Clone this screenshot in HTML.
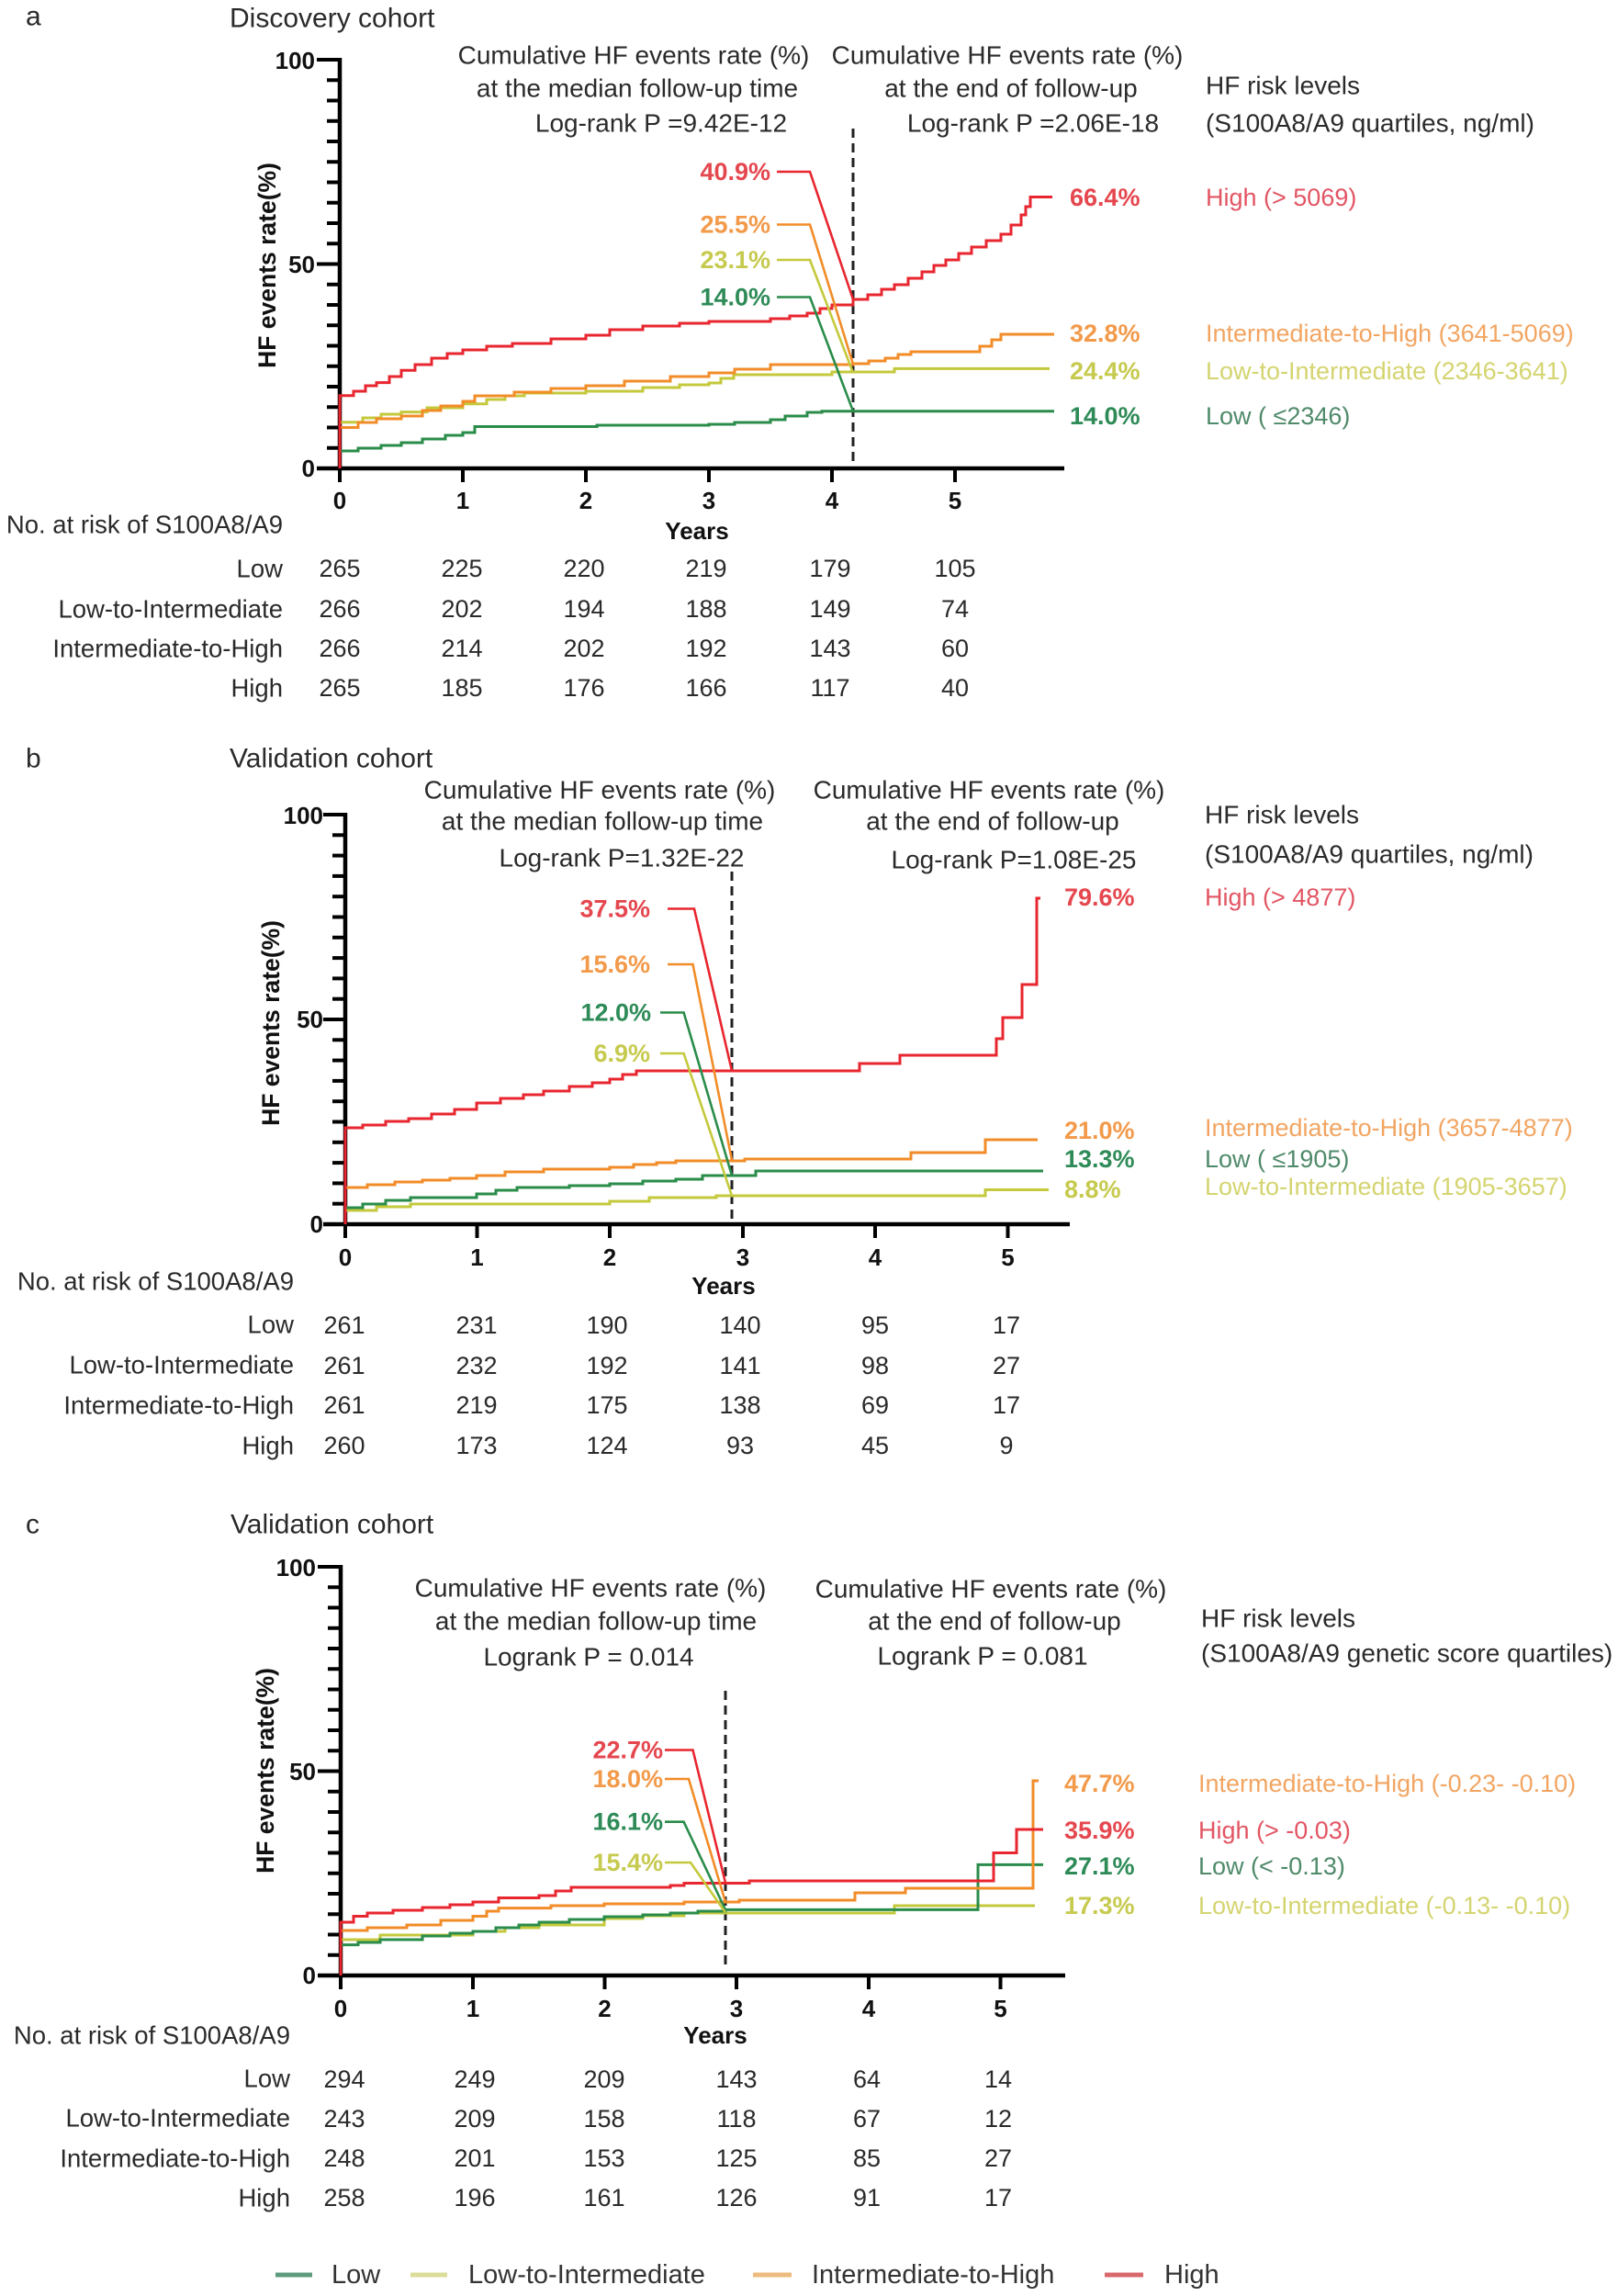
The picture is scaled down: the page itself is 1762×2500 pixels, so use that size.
<!DOCTYPE html>
<html>
<head>
<meta charset="utf-8">
<style>
html,body{margin:0;padding:0;background:#fff;}
svg{display:block;}
text{font-family:"Liberation Sans",Arial,sans-serif;dominant-baseline:central;}
.t{font-size:28px;fill:#2a2a2a;}
.ttl{font-size:30px;fill:#2a2a2a;}
.tk{font-size:26px;font-weight:bold;fill:#111;}
.yl{font-size:26.5px;font-weight:bold;fill:#111;}
.rt{font-size:27.5px;fill:#2a2a2a;}
.num{font-size:27px;fill:#2a2a2a;}
.vl{font-size:27px;font-weight:bold;}
.cat{font-size:27px;}
.lg{font-size:29px;fill:#333;}
.ax{stroke:#000;stroke-width:4.5;fill:none;}
.tick{stroke:#000;stroke-width:4;}
.dash{stroke:#222;stroke-width:3;stroke-dasharray:10,6;fill:none;}
.c{fill:none;stroke-width:3;stroke-linejoin:miter;}
.ld{fill:none;stroke-width:2.6;}
.R{stroke:#e8262f;} .O{stroke:#f28c28;} .Y{stroke:#c4c93c;} .G{stroke:#2a8c4a;}
.fR{fill:#e5474f;} .fO{fill:#f29a4a;} .fY{fill:#c6ca4e;} .fG{fill:#2e8b57;}
.cR{fill:#e25563;} .cO{fill:#f2a562;} .cY{fill:#d4d470;} .cG{fill:#4f8a6a;}
</style>
</head>
<body>
<svg width="1762" height="2500" viewBox="0 0 1762 2500" xmlns="http://www.w3.org/2000/svg">

<!-- ================= PANEL A ================= -->
<text x="28" y="18" class="ttl">a</text>
<text x="250" y="20" class="ttl">Discovery cohort</text>

<text x="690" y="60" class="t" text-anchor="middle">Cumulative HF events rate (%)</text>
<text x="694" y="96" class="t" text-anchor="middle">at the median follow-up time</text>
<text x="720" y="134" class="t" text-anchor="middle">Log-rank P =9.42E-12</text>
<text x="1097" y="60" class="t" text-anchor="middle">Cumulative HF events rate (%)</text>
<text x="1101" y="96" class="t" text-anchor="middle">at the end of follow-up</text>
<text x="1125" y="134" class="t" text-anchor="middle">Log-rank P =2.06E-18</text>
<text x="1313" y="93" class="t">HF risk levels</text>
<text x="1313" y="134" class="t">(S100A8/A9 quartiles, ng/ml)</text>

<!-- y ticks a -->
<g class="tick">
<line x1="345" y1="65" x2="370" y2="65"/>
<line x1="356" y1="87.25" x2="370" y2="87.25"/><line x1="356" y1="109.5" x2="370" y2="109.5"/><line x1="356" y1="131.75" x2="370" y2="131.75"/><line x1="356" y1="154" x2="370" y2="154"/><line x1="356" y1="176.25" x2="370" y2="176.25"/><line x1="356" y1="198.5" x2="370" y2="198.5"/><line x1="356" y1="220.75" x2="370" y2="220.75"/><line x1="356" y1="243" x2="370" y2="243"/><line x1="356" y1="265.25" x2="370" y2="265.25"/>
<line x1="345" y1="287.5" x2="370" y2="287.5"/>
<line x1="356" y1="309.75" x2="370" y2="309.75"/><line x1="356" y1="332" x2="370" y2="332"/><line x1="356" y1="354.25" x2="370" y2="354.25"/><line x1="356" y1="376.5" x2="370" y2="376.5"/><line x1="356" y1="398.75" x2="370" y2="398.75"/><line x1="356" y1="421" x2="370" y2="421"/><line x1="356" y1="443.25" x2="370" y2="443.25"/><line x1="356" y1="465.5" x2="370" y2="465.5"/><line x1="356" y1="487.75" x2="370" y2="487.75"/>
<line x1="370" y1="510" x2="370" y2="525"/><line x1="504" y1="510" x2="504" y2="525"/><line x1="638" y1="510" x2="638" y2="525"/><line x1="772" y1="510" x2="772" y2="525"/><line x1="906" y1="510" x2="906" y2="525"/><line x1="1040" y1="510" x2="1040" y2="525"/>
</g>
<path class="ax" d="M370,63 V510 M345,510 H1159"/>
<text x="343" y="66" class="tk" text-anchor="end">100</text>
<text x="343" y="288" class="tk" text-anchor="end">50</text>
<text x="343" y="510" class="tk" text-anchor="end">0</text>
<text class="tk" y="545" text-anchor="middle"><tspan x="370">0</tspan></text>
<text class="tk" y="545" x="504" text-anchor="middle">1</text>
<text class="tk" y="545" x="638" text-anchor="middle">2</text>
<text class="tk" y="545" x="772" text-anchor="middle">3</text>
<text class="tk" y="545" x="906" text-anchor="middle">4</text>
<text class="tk" y="545" x="1040" text-anchor="middle">5</text>
<text x="759" y="578" class="tk" text-anchor="middle">Years</text>
<text class="yl" text-anchor="middle" transform="translate(291,289) rotate(-90)">HF events rate(%)</text>

<line class="dash" x1="929" y1="140" x2="929" y2="508"/>

<path class="c G" d="M370,510 V491 H390 V488 H415 V485 H437 V482 H460 V478 H485 V474 H504 V471 H517 V464.5 H650 V463 H772 V462 H800 V460 H839 V457 H855 V453 H879 V449 H895 V447.7 H1148"/>
<path class="c Y" d="M370,510 V459.7 H395 V455 H415 V451 H437 V448.6 H465 V444 H504 V439.7 H530 V435 H550 V431 H571 V428 H638 V426 H700 V422 H740 V419 H772 V417 H785 V412 H799 V408 H906 V405 H974 V401.4 H1143"/>
<path class="c O" d="M370,510 V465.5 H390 V460 H410 V456 H437 V453 H460 V447 H480 V442 H504 V437 H517 V431 H560 V427 H600 V423 H638 V420 H680 V415 H730 V410 H772 V406 H800 V402 H839 V397 H929 V396 H946 V393 H964 V390 H978 V386 H992 V383 H1067 V377 H1080 V370 H1090 V364 H1148"/>
<path class="c R" d="M370,510 V430.8 H385 V426 H398 V420 H410 V416.6 H424 V410 H437 V403.2 H452 V397 H470 V390 H487 V385 H504 V381 H530 V377 H558 V374 H600 V369 H638 V365 H664 V359 H700 V355 H740 V352 H772 V350 H839 V347 H860 V344 H879 V341 H893 V336 H906 V332 H929 V326 H945 V321 H960 V315 H974 V310 H989 V303 H1004 V296 H1017 V289 H1030 V283 H1044 V276 H1058 V269 H1074 V262 H1090 V255 H1101 V245 H1112 V234 H1117 V225 H1122 V214.5 H1146"/>

<path class="ld R" d="M846,187 H882 L929,326"/>
<path class="ld O" d="M846,244.5 H882 L929,396.5"/>
<path class="ld Y" d="M846,283 H882 L929,406"/>
<path class="ld G" d="M846,323.5 H882 L929,447.7"/>
<text x="839" y="187" class="vl fR" text-anchor="end">40.9%</text>
<text x="839" y="244.5" class="vl fO" text-anchor="end">25.5%</text>
<text x="839" y="283" class="vl fY" text-anchor="end">23.1%</text>
<text x="839" y="323.5" class="vl fG" text-anchor="end">14.0%</text>

<text x="1165" y="215" class="vl fR">66.4%</text>
<text x="1165" y="363" class="vl fO">32.8%</text>
<text x="1165" y="404" class="vl fY">24.4%</text>
<text x="1165" y="453" class="vl fG">14.0%</text>
<text x="1313" y="215" class="cat cR">High (&gt; 5069)</text>
<text x="1313" y="363" class="cat cO">Intermediate-to-High (3641-5069)</text>
<text x="1313" y="404" class="cat cY">Low-to-Intermediate (2346-3641)</text>
<text x="1313" y="453" class="cat cG">Low ( ≤2346)</text>

<text x="308" y="571" class="rt" text-anchor="end">No. at risk of S100A8/A9</text>
<text x="308" y="619" class="rt" text-anchor="end">Low</text>
<text x="308" y="663" class="rt" text-anchor="end">Low-to-Intermediate</text>
<text x="308" y="706" class="rt" text-anchor="end">Intermediate-to-High</text>
<text x="308" y="749" class="rt" text-anchor="end">High</text>
<g class="num" text-anchor="middle">
<text x="370" y="619">265</text><text x="503" y="619">225</text><text x="636" y="619">220</text><text x="769" y="619">219</text><text x="904" y="619">179</text><text x="1040" y="619">105</text>
<text x="370" y="663">266</text><text x="503" y="663">202</text><text x="636" y="663">194</text><text x="769" y="663">188</text><text x="904" y="663">149</text><text x="1040" y="663">74</text>
<text x="370" y="706">266</text><text x="503" y="706">214</text><text x="636" y="706">202</text><text x="769" y="706">192</text><text x="904" y="706">143</text><text x="1040" y="706">60</text>
<text x="370" y="749">265</text><text x="503" y="749">185</text><text x="636" y="749">176</text><text x="769" y="749">166</text><text x="904" y="749">117</text><text x="1040" y="749">40</text>
</g>

<!-- ================= PANEL B ================= -->
<text x="28" y="826" class="ttl">b</text>
<text x="250" y="826" class="ttl">Validation cohort</text>

<text x="653" y="860" class="t" text-anchor="middle">Cumulative HF events rate (%)</text>
<text x="656" y="894" class="t" text-anchor="middle">at the median follow-up time</text>
<text x="677" y="934" class="t" text-anchor="middle">Log-rank P=1.32E-22</text>
<text x="1077" y="860" class="t" text-anchor="middle">Cumulative HF events rate (%)</text>
<text x="1081" y="894" class="t" text-anchor="middle">at the end of follow-up</text>
<text x="1104" y="936" class="t" text-anchor="middle">Log-rank P=1.08E-25</text>
<text x="1312" y="887" class="t">HF risk levels</text>
<text x="1312" y="930" class="t">(S100A8/A9 quartiles, ng/ml)</text>

<g class="tick">
<line x1="352" y1="887" x2="376" y2="887"/>
<line x1="362" y1="909.3" x2="376" y2="909.3"/><line x1="362" y1="931.6" x2="376" y2="931.6"/><line x1="362" y1="953.9" x2="376" y2="953.9"/><line x1="362" y1="976.2" x2="376" y2="976.2"/><line x1="362" y1="998.5" x2="376" y2="998.5"/><line x1="362" y1="1020.8" x2="376" y2="1020.8"/><line x1="362" y1="1043.1" x2="376" y2="1043.1"/><line x1="362" y1="1065.4" x2="376" y2="1065.4"/><line x1="362" y1="1087.7" x2="376" y2="1087.7"/>
<line x1="352" y1="1110" x2="376" y2="1110"/>
<line x1="362" y1="1132.3" x2="376" y2="1132.3"/><line x1="362" y1="1154.6" x2="376" y2="1154.6"/><line x1="362" y1="1176.9" x2="376" y2="1176.9"/><line x1="362" y1="1199.2" x2="376" y2="1199.2"/><line x1="362" y1="1221.5" x2="376" y2="1221.5"/><line x1="362" y1="1243.8" x2="376" y2="1243.8"/><line x1="362" y1="1266.1" x2="376" y2="1266.1"/><line x1="362" y1="1288.4" x2="376" y2="1288.4"/><line x1="362" y1="1310.7" x2="376" y2="1310.7"/>
<line x1="376" y1="1333" x2="376" y2="1348"/><line x1="519.5" y1="1333" x2="519.5" y2="1348"/><line x1="664" y1="1333" x2="664" y2="1348"/><line x1="809" y1="1333" x2="809" y2="1348"/><line x1="953" y1="1333" x2="953" y2="1348"/><line x1="1097.5" y1="1333" x2="1097.5" y2="1348"/>
</g>
<path class="ax" d="M376,885 V1333 M352,1333 H1165"/>
<text x="352" y="888" class="tk" text-anchor="end">100</text>
<text x="352" y="1110" class="tk" text-anchor="end">50</text>
<text x="352" y="1333" class="tk" text-anchor="end">0</text>
<text class="tk" y="1369" x="376" text-anchor="middle">0</text>
<text class="tk" y="1369" x="519.5" text-anchor="middle">1</text>
<text class="tk" y="1369" x="664" text-anchor="middle">2</text>
<text class="tk" y="1369" x="809" text-anchor="middle">3</text>
<text class="tk" y="1369" x="953" text-anchor="middle">4</text>
<text class="tk" y="1369" x="1097.5" text-anchor="middle">5</text>
<text x="788" y="1400" class="tk" text-anchor="middle">Years</text>
<text class="yl" text-anchor="middle" transform="translate(295,1114) rotate(-90)">HF events rate(%)</text>

<line class="dash" x1="797" y1="949" x2="797" y2="1331"/>

<path class="c Y" d="M376,1333 V1318 H410 V1314 H447 V1311 H664 V1308 H707 V1304 H780 V1302 H1073 V1295.5 H1142"/>
<path class="c G" d="M376,1333 V1315 H395 V1311 H420 V1307 H447 V1304 H519 V1300 H540 V1296 H563 V1293 H620 V1291 H664 V1289 H700 V1286 H736 V1284 H765 V1280 H823 V1275 H1136"/>
<path class="c O" d="M376,1333 V1293 H400 V1290 H430 V1287 H460 V1285 H490 V1283 H519 V1280 H550 V1276 H592 V1273 H664 V1271 H690 V1268 H715 V1266 H736 V1264 H811 V1262 H992 V1255 H1073 V1241 H1130"/>
<path class="c R" d="M376,1333 V1228 H395 V1225 H420 V1221 H445 V1218 H470 V1213 H495 V1208 H519 V1201 H545 V1196 H570 V1192 H592 V1188 H620 V1183 H645 V1179 H664 V1175 H678 V1170 H693 V1166 H936 V1158 H980 V1149 H1085 V1131 H1092 V1108 H1113 V1072 H1129 V978 H1133"/>

<path class="ld R" d="M727,989.5 H756 L797,1166"/>
<path class="ld O" d="M727,1050 H754.5 L797,1263.4"/>
<path class="ld G" d="M719,1102.5 H744.6 L797,1280"/>
<path class="ld Y" d="M719,1147 H744.6 L797,1302"/>
<text x="708" y="989.5" class="vl fR" text-anchor="end">37.5%</text>
<text x="708" y="1050" class="vl fO" text-anchor="end">15.6%</text>
<text x="709" y="1102.5" class="vl fG" text-anchor="end">12.0%</text>
<text x="708" y="1147" class="vl fY" text-anchor="end">6.9%</text>

<text x="1159" y="977" class="vl fR">79.6%</text>
<text x="1159" y="1231" class="vl fO">21.0%</text>
<text x="1159" y="1262" class="vl fG">13.3%</text>
<text x="1159" y="1295" class="vl fY">8.8%</text>
<text x="1312" y="977" class="cat cR">High (&gt; 4877)</text>
<text x="1312" y="1228" class="cat cO">Intermediate-to-High (3657-4877)</text>
<text x="1312" y="1262" class="cat cG">Low ( ≤1905)</text>
<text x="1312" y="1292" class="cat cY">Low-to-Intermediate (1905-3657)</text>

<text x="320" y="1395" class="rt" text-anchor="end">No. at risk of S100A8/A9</text>
<text x="320" y="1442" class="rt" text-anchor="end">Low</text>
<text x="320" y="1486" class="rt" text-anchor="end">Low-to-Intermediate</text>
<text x="320" y="1530" class="rt" text-anchor="end">Intermediate-to-High</text>
<text x="320" y="1574" class="rt" text-anchor="end">High</text>
<g class="num" text-anchor="middle">
<text x="375" y="1443">261</text><text x="519" y="1443">231</text><text x="661" y="1443">190</text><text x="806" y="1443">140</text><text x="953" y="1443">95</text><text x="1096" y="1443">17</text>
<text x="375" y="1487">261</text><text x="519" y="1487">232</text><text x="661" y="1487">192</text><text x="806" y="1487">141</text><text x="953" y="1487">98</text><text x="1096" y="1487">27</text>
<text x="375" y="1530">261</text><text x="519" y="1530">219</text><text x="661" y="1530">175</text><text x="806" y="1530">138</text><text x="953" y="1530">69</text><text x="1096" y="1530">17</text>
<text x="375" y="1574">260</text><text x="519" y="1574">173</text><text x="661" y="1574">124</text><text x="806" y="1574">93</text><text x="953" y="1574">45</text><text x="1096" y="1574">9</text>
</g>

<!-- ================= PANEL C ================= -->
<text x="28" y="1660" class="ttl">c</text>
<text x="251" y="1660" class="ttl">Validation cohort</text>

<text x="643" y="1729" class="t" text-anchor="middle">Cumulative HF events rate (%)</text>
<text x="649" y="1765" class="t" text-anchor="middle">at the median follow-up time</text>
<text x="641" y="1804" class="t" text-anchor="middle">Logrank P = 0.014</text>
<text x="1079" y="1730" class="t" text-anchor="middle">Cumulative HF events rate (%)</text>
<text x="1083" y="1765" class="t" text-anchor="middle">at the end of follow-up</text>
<text x="1070" y="1803" class="t" text-anchor="middle">Logrank P = 0.081</text>
<text x="1308" y="1762" class="t">HF risk levels</text>
<text x="1308" y="1800" class="t">(S100A8/A9 genetic score quartiles)</text>

<g class="tick">
<line x1="346" y1="1706" x2="371" y2="1706"/>
<line x1="357" y1="1728.25" x2="371" y2="1728.25"/><line x1="357" y1="1750.5" x2="371" y2="1750.5"/><line x1="357" y1="1772.75" x2="371" y2="1772.75"/><line x1="357" y1="1795" x2="371" y2="1795"/><line x1="357" y1="1817.25" x2="371" y2="1817.25"/><line x1="357" y1="1839.5" x2="371" y2="1839.5"/><line x1="357" y1="1861.75" x2="371" y2="1861.75"/><line x1="357" y1="1884" x2="371" y2="1884"/><line x1="357" y1="1906.25" x2="371" y2="1906.25"/>
<line x1="346" y1="1928.5" x2="371" y2="1928.5"/>
<line x1="357" y1="1950.75" x2="371" y2="1950.75"/><line x1="357" y1="1973" x2="371" y2="1973"/><line x1="357" y1="1995.25" x2="371" y2="1995.25"/><line x1="357" y1="2017.5" x2="371" y2="2017.5"/><line x1="357" y1="2039.75" x2="371" y2="2039.75"/><line x1="357" y1="2062" x2="371" y2="2062"/><line x1="357" y1="2084.25" x2="371" y2="2084.25"/><line x1="357" y1="2106.5" x2="371" y2="2106.5"/><line x1="357" y1="2128.75" x2="371" y2="2128.75"/>
<line x1="371" y1="2151" x2="371" y2="2166"/><line x1="515" y1="2151" x2="515" y2="2166"/><line x1="658.5" y1="2151" x2="658.5" y2="2166"/><line x1="802" y1="2151" x2="802" y2="2166"/><line x1="946" y1="2151" x2="946" y2="2166"/><line x1="1089.5" y1="2151" x2="1089.5" y2="2166"/>
</g>
<path class="ax" d="M371,1704 V2151 M346,2151 H1160"/>
<text x="344" y="1707" class="tk" text-anchor="end">100</text>
<text x="344" y="1929" class="tk" text-anchor="end">50</text>
<text x="344" y="2151" class="tk" text-anchor="end">0</text>
<text class="tk" y="2187" x="371" text-anchor="middle">0</text>
<text class="tk" y="2187" x="515" text-anchor="middle">1</text>
<text class="tk" y="2187" x="658.5" text-anchor="middle">2</text>
<text class="tk" y="2187" x="802" text-anchor="middle">3</text>
<text class="tk" y="2187" x="946" text-anchor="middle">4</text>
<text class="tk" y="2187" x="1089.5" text-anchor="middle">5</text>
<text x="779" y="2216" class="tk" text-anchor="middle">Years</text>
<text class="yl" text-anchor="middle" transform="translate(289,1928) rotate(-90)">HF events rate(%)</text>

<line class="dash" x1="790" y1="1841" x2="790" y2="2143"/>

<path class="c Y" d="M371,2151 V2112 H414 V2107 H515 V2103 H550 V2099 H587 V2096 H658 V2089 H700 V2086 H745 V2083 H974 V2075 H1127"/>
<path class="c G" d="M371,2151 V2117.6 H390 V2115 H414 V2112 H460 V2108 H490 V2105 H515 V2103 H540 V2099 H565 V2096 H587 V2093 H620 V2090 H658 V2087 H700 V2085 H730 V2083 H760 V2081 H790 V2079.4 H1065 V2030.4 H1136"/>
<path class="c O" d="M371,2151 V2102 H400 V2099 H443 V2096 H480 V2091 H515 V2086.5 H530 V2081 H543 V2077.6 H600 V2075 H658 V2073 H745 V2071 H805 V2069 H931 V2061 H986 V2056 H1125 V1939 H1131"/>
<path class="c R" d="M371,2151 V2093 H385 V2086.5 H400 V2083 H428 V2080 H460 V2077 H490 V2074 H515 V2071 H543 V2066.5 H587 V2064 H605 V2059 H622 V2055 H730 V2053 H745 V2050.5 H816 V2048 H1082 V2017.5 H1107 V1992 H1136"/>

<path class="ld R" d="M724,1905.5 H754.5 L790,2050"/>
<path class="ld O" d="M724,1937 H750 L790,2071"/>
<path class="ld G" d="M724,1983.7 H744.6 L790,2079.4"/>
<path class="ld Y" d="M724,2028 H752 L790,2082.5"/>
<text x="722" y="1905.5" class="vl fR" text-anchor="end">22.7%</text>
<text x="722" y="1937" class="vl fO" text-anchor="end">18.0%</text>
<text x="722" y="1983.7" class="vl fG" text-anchor="end">16.1%</text>
<text x="722" y="2028" class="vl fY" text-anchor="end">15.4%</text>

<text x="1159" y="1942" class="vl fO">47.7%</text>
<text x="1159" y="1993" class="vl fR">35.9%</text>
<text x="1159" y="2032" class="vl fG">27.1%</text>
<text x="1159" y="2075" class="vl fY">17.3%</text>
<text x="1305" y="1942" class="cat cO">Intermediate-to-High (-0.23- -0.10)</text>
<text x="1305" y="1993" class="cat cR">High (&gt; -0.03)</text>
<text x="1305" y="2032" class="cat cG">Low (&lt; -0.13)</text>
<text x="1305" y="2075" class="cat cY">Low-to-Intermediate (-0.13- -0.10)</text>

<text x="316" y="2216" class="rt" text-anchor="end">No. at risk of S100A8/A9</text>
<text x="316" y="2263" class="rt" text-anchor="end">Low</text>
<text x="316" y="2306" class="rt" text-anchor="end">Low-to-Intermediate</text>
<text x="316" y="2350" class="rt" text-anchor="end">Intermediate-to-High</text>
<text x="316" y="2393" class="rt" text-anchor="end">High</text>
<g class="num" text-anchor="middle">
<text x="375" y="2264">294</text><text x="517" y="2264">249</text><text x="658" y="2264">209</text><text x="802" y="2264">143</text><text x="944" y="2264">64</text><text x="1087" y="2264">14</text>
<text x="375" y="2307">243</text><text x="517" y="2307">209</text><text x="658" y="2307">158</text><text x="802" y="2307">118</text><text x="944" y="2307">67</text><text x="1087" y="2307">12</text>
<text x="375" y="2350">248</text><text x="517" y="2350">201</text><text x="658" y="2350">153</text><text x="802" y="2350">125</text><text x="944" y="2350">85</text><text x="1087" y="2350">27</text>
<text x="375" y="2393">258</text><text x="517" y="2393">196</text><text x="658" y="2393">161</text><text x="802" y="2393">126</text><text x="944" y="2393">91</text><text x="1087" y="2393">17</text>
</g>

<!-- ================= LEGEND ================= -->
<line x1="300" y1="2477" x2="340" y2="2477" stroke="#5e9a7c" stroke-width="5"/>
<text x="361" y="2477" class="lg">Low</text>
<line x1="447" y1="2477" x2="487" y2="2477" stroke="#dadc98" stroke-width="5"/>
<text x="510" y="2477" class="lg">Low-to-Intermediate</text>
<line x1="820" y1="2477" x2="862" y2="2477" stroke="#ecbb7e" stroke-width="5"/>
<text x="884" y="2477" class="lg">Intermediate-to-High</text>
<line x1="1203" y1="2477" x2="1245" y2="2477" stroke="#d9686c" stroke-width="5"/>
<text x="1268" y="2477" class="lg">High</text>

</svg>
</body>
</html>
